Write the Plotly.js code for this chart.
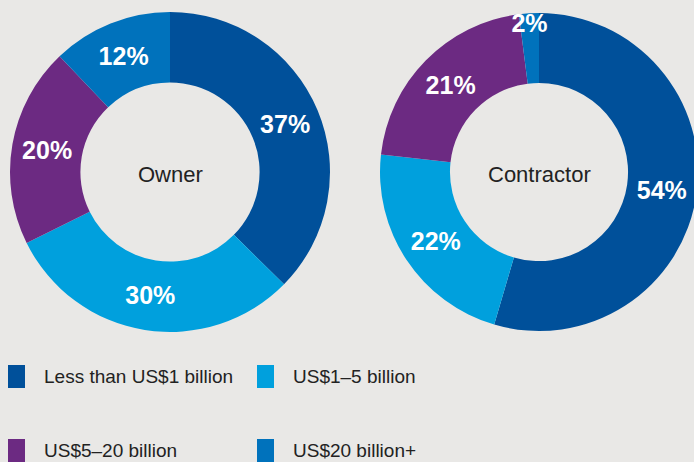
<!DOCTYPE html>
<html>
<head>
<meta charset="utf-8">
<script src="https://cdn.plot.ly/plotly-3.0.1.min.js"></script>
<style>
  html, body { margin: 0; padding: 0; overflow: hidden; background: #e9e8e6; }
  #chart { width: 700px; height: 462px; }
</style>
</head>
<body>
<div id="chart"></div>
<script>
// Project value split, owner vs contractor

const categories = ['Less than US$1 billion', 'US$1–5 billion', 'US$5–20 billion', 'US$20 billion+'];
const sliceColors = ['#00509a', '#00a0dd', '#6c2a82', '#0072bc'];
const ownerValues = [37, 30, 20, 12];
const contractorValues = [54, 22, 21, 2];
const groupNames = ['Owner', 'Contractor'];

const W = 700, H = 462;
const bg = '#e9e8e6';

// pixel box -> paper domain
function dom(x0, x1, y0, y1) {
    return { x: [x0 / W, x1 / W], y: [1 - y1 / H, 1 - y0 / H] };
}

function donut(values, domain) {
    return {
        type: 'pie',
        labels: categories,
        values: values,
        domain: domain,
        hole: 0.56,
        sort: false,
        direction: 'clockwise',
        rotation: 0,
        marker: { colors: sliceColors, line: { width: 0 } },
        textinfo: 'none',
        texttemplate: '%{value}%',
        textposition: 'inside',
        insidetextorientation: 'horizontal',
        textfont: { family: 'Liberation Sans, Arial, sans-serif', size: 25, color: '#ffffff', weight: 'bold' },
        hoverinfo: 'label+percent',
        showlegend: false
    };
}

const traces = [
    donut(ownerValues, dom(10, 330, 12, 332)),
    donut(contractorValues, dom(380, 698, 13, 331))
];

// center labels
const annotations = [
    { text: groupNames[0], x: 170 / W, y: 1 - 174 / H },
    { text: groupNames[1], x: 539 / W, y: 1 - 174 / H }
].map(a => Object.assign(a, {
    xref: 'paper', yref: 'paper', showarrow: false,
    xanchor: 'center', yanchor: 'middle',
    font: { family: 'Liberation Sans, Arial, sans-serif', size: 22, color: '#222222' }
}));

// legend: two columns, two rows
const shapes = [];
const legCols = [8, 257];
const legRows = [376, 450];
categories.forEach((c, i) => {
    const cx = legCols[i % 2];
    const cy = legRows[Math.floor(i / 2)];
    shapes.push({
        type: 'rect', xref: 'paper', yref: 'paper',
        x0: cx / W, x1: (cx + 17) / W,
        y0: 1 - (cy + 12) / H, y1: 1 - (cy - 11) / H,
        fillcolor: sliceColors[i], line: { width: 0 }
    });
    annotations.push({
        text: c, xref: 'paper', yref: 'paper', showarrow: false,
        x: (cx + 34) / W, y: 1 - cy / H,
        xanchor: 'left', yanchor: 'middle',
        font: { family: 'Liberation Sans, Arial, sans-serif', size: 19, color: '#222222' }
    });
});

const layout = {
    width: W,
    height: H,
    margin: { l: 0, r: 0, t: 0, b: 0 },
    paper_bgcolor: bg,
    plot_bgcolor: bg,
    showlegend: false,
    uniformtext: { minsize: 25, mode: 'show' },
    annotations: annotations,
    shapes: shapes
};

Plotly.newPlot('chart', traces, layout, { displayModeBar: false, staticPlot: true });
</script>
</body>
</html>
